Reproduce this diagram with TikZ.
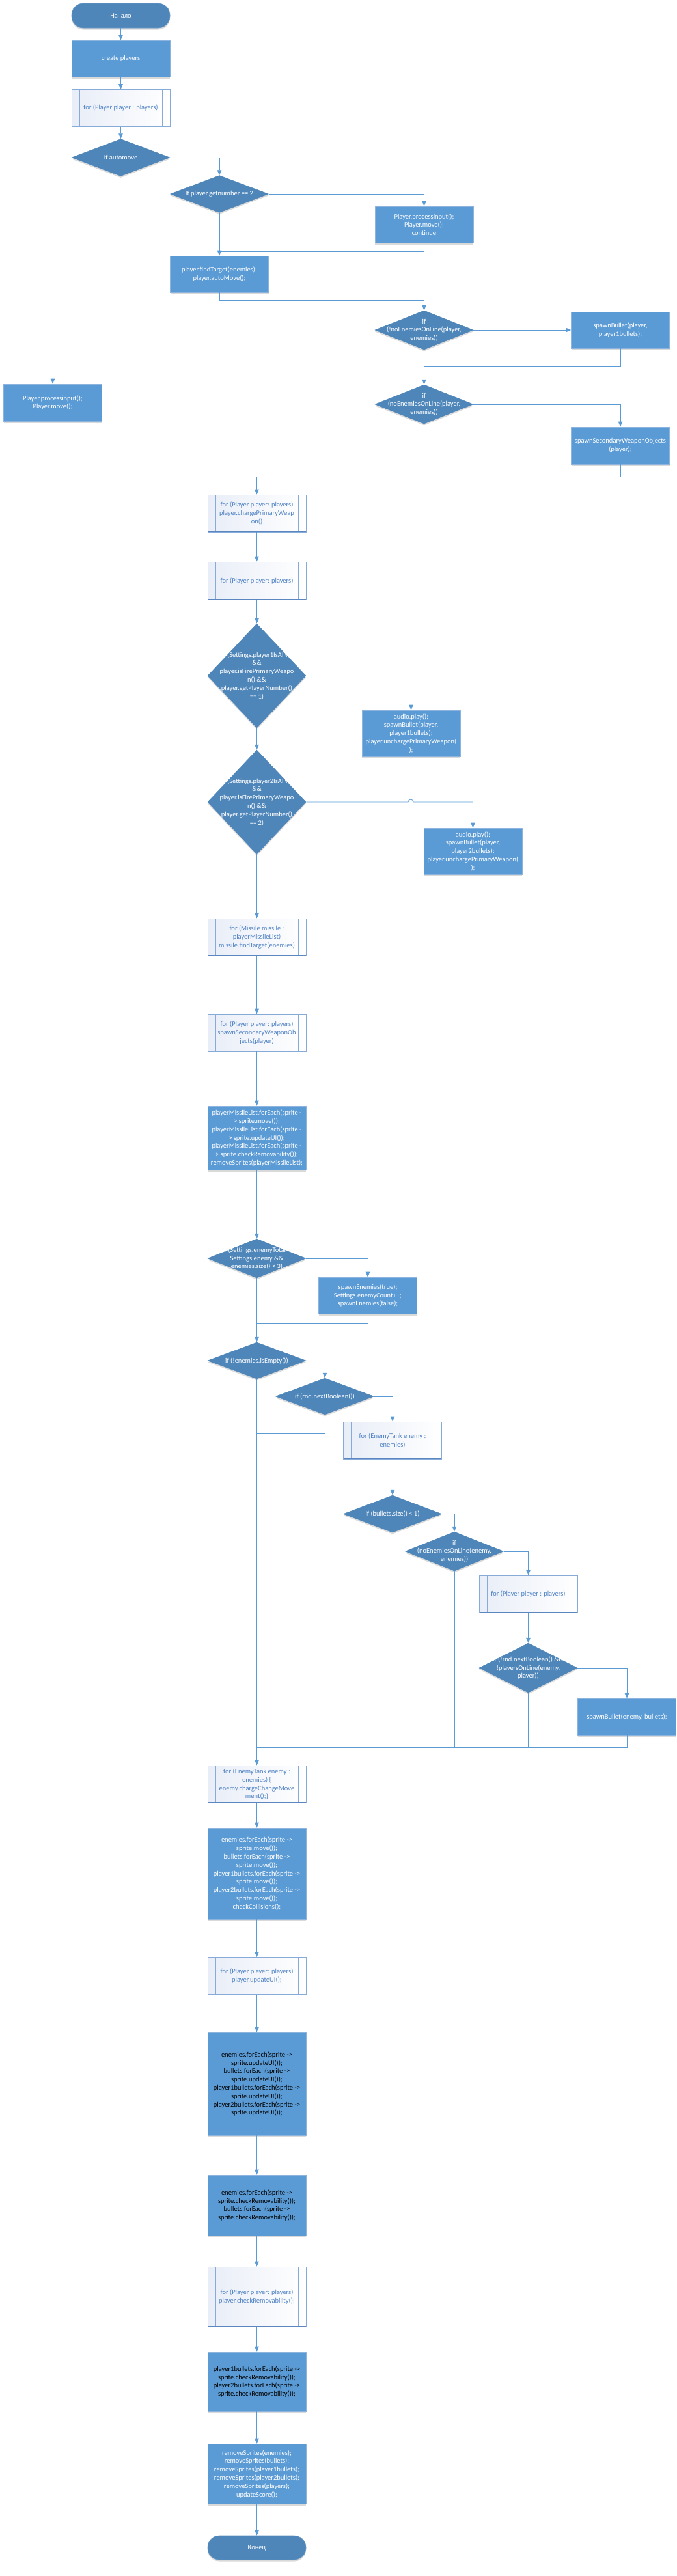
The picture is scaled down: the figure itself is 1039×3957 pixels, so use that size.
\documentclass[tikz,border=0pt]{standalone}
\usepackage{fontspec}
\setmainfont{Carlito}
\usetikzlibrary{arrows.meta,shapes.geometric,shadows}
\definecolor{lineblue}{HTML}{5B9BD5}
\definecolor{boxblue}{HTML}{5B9BD5}
\definecolor{boxedge}{HTML}{8DB4DE}
\definecolor{decblue}{HTML}{4E86BA}
\definecolor{subtext}{HTML}{4F82C4}
\definecolor{subedge}{HTML}{86ABD8}
\definecolor{subbottom}{HTML}{5B86C0}
\definecolor{subfill}{HTML}{E8EDF7}
\tikzset{
  every node/.style={font=\fontsize{10.5}{12.8}\selectfont},
  conn/.style={draw=lineblue, line width=0.9pt},
  arr/.style={conn, -{Triangle[length=8pt,width=6.5pt]}},
  shad/.style={drop shadow={shadow xshift=0pt, shadow yshift=-2.5pt, opacity=0.15, fill=black}},
  proc/.style={rectangle, fill=boxblue, draw=boxedge, line width=0.6pt,
    minimum width=151pt, minimum height=56pt, inner sep=0pt, text=white, align=center, shad},
  procb/.style={proc, text=black},
  term/.style={rectangle, rounded corners=18pt, fill=decblue, draw=decblue!85!white, line width=0.6pt,
    minimum width=151pt, minimum height=38pt, inner sep=0pt, text=white, align=center, shad},
  dec/.style={diamond, fill=decblue, draw=decblue, line width=0.5pt, inner sep=0pt,
    minimum width=151pt, minimum height=57pt, shad},
  dtext/.style={text=white, align=center, inner sep=0pt},
  sub/.style={rectangle, draw=subedge, line width=0.8pt, left color=subfill, right color=white,
    minimum width=151pt, minimum height=57pt, inner sep=0pt, text=subtext, align=center,
    path picture={
      \draw[subedge, line width=0.8pt]
        ([xshift=12pt]path picture bounding box.north west) -- ([xshift=12pt]path picture bounding box.south west)
        ([xshift=-12pt]path picture bounding box.north east) -- ([xshift=-12pt]path picture bounding box.south east);
      \draw[subbottom, line width=1.6pt]
        (path picture bounding box.south west) -- (path picture bounding box.south east);}},
}
\begin{document}
\begin{tikzpicture}[x=1pt,y=-1pt]
\useasboundingbox (0,0) rectangle (1039,3957);

% ---------------- top part ----------------
\node[term] (start) at (185.5,24) {Начало};
\node[proc] (create) at (185.5,90) {create players};
\node[sub] (for1) at (185.5,166) {for (Player player : players)};
\node[dec] (d1) at (185.5,242) {};
\node[dtext] (d1t) at (d1) {If automove};
\node[dec] (d2) at (337,298) {};
\node[dtext] (d2t) at (d2) {If player.getnumber == 2};
\node[proc] (pin1) at (651.5,345) {Player.processinput();\\Player.move();\\continue};
\node[proc] (ft) at (337,421) {player.findTarget(enemies);\\player.autoMove();};
\node[dec, minimum height=60pt] (d3) at (651.5,507) {};
\node[dtext] (d3t) at (d3) {if\\(!noEnemiesOnLine(player,\\enemies))};
\node[proc] (sb1) at (953,507) {spawnBullet(player,\\player1bullets);};
\node[dec, minimum height=60pt] (d4) at (651.5,621) {};
\node[dtext] (d4t) at (d4) {if\\(noEnemiesOnLine(player,\\enemies))};
\node[proc, minimum height=57pt] (sw) at (953,684.5) {spawnSecondaryWeaponObjects\\(player);};
\node[proc, minimum height=57pt] (pin2) at (81,618.5) {Player.processinput();\\Player.move();};

% ---------------- middle column ----------------
\node[sub] (for2) at (394.5,788.5) {for (Player player: players)\\player.chargePrimaryWeap\\on()};
\node[sub, minimum height=58pt] (for3) at (394.5,892) {for (Player player: players)};
\node[dec, minimum height=160pt] (d5) at (394.5,1038) {};
\node[dtext] (d5t) at (d5) {if (Settings.player1IsAlive\\\&\&\\player.isFirePrimaryWeapo\\n() \&\&\\player.getPlayerNumber()\\== 1)};
\node[proc, minimum height=71pt] (a1) at (631.5,1126.5) {audio.play();\\spawnBullet(player,\\player1bullets);\\player.unchargePrimaryWeapon(\\);};
\node[dec, minimum height=160pt] (d6) at (394.5,1232) {};
\node[dtext] (d6t) at (d6) {if (Settings.player2IsAlive\\\&\&\\player.isFirePrimaryWeapo\\n() \&\&\\player.getPlayerNumber()\\== 2)};
\node[proc, minimum height=71pt] (a2) at (726.5,1307.5) {audio.play();\\spawnBullet(player,\\player2bullets);\\player.unchargePrimaryWeapon(\\);};
\node[sub] (for4) at (394.5,1439.5) {for (Missile missile :\\playerMissileList)\\missile.findTarget(enemies)};
\node[sub] (for5) at (394.5,1586.5) {for (Player player: players)\\spawnSecondaryWeaponOb\\jects(player)};
\node[proc, minimum height=98pt] (pm) at (394.5,1748) {playerMissileList.forEach(sprite -\\> sprite.move());\\playerMissileList.forEach(sprite -\\> sprite.updateUI());\\playerMissileList.forEach(sprite -\\> sprite.checkRemovability());\\removeSprites(playerMissileList);};
\node[dec, minimum height=60pt] (d7) at (394.5,1933) {};
\node[dtext] (d7t) at (d7) {if (Settings.enemyTotal >\\Settings.enemy \&\&\\enemies.size() < 3)};
\node[proc] (se) at (565,1990) {spawnEnemies(true);\\Settings.enemyCount++;\\spawnEnemies(false);};
\node[dec, minimum height=56pt] (d8) at (394.5,2090) {};
\node[dtext] (d8t) at (d8) {if (!enemies.isEmpty())};
\node[dec, minimum height=56pt] (d9) at (499,2145) {};
\node[dtext] (d9t) at (d9) {if (rnd.nextBoolean())};
\node[sub] (for6) at (603,2212.5) {for (EnemyTank enemy :\\enemies)};
\node[dec] (d10) at (603,2325.5) {};
\node[dtext] (d10t) at (d10) {if (bullets.size() < 1)};
\node[dec, minimum height=60pt] (d11) at (698,2383) {};
\node[dtext] (d11t) at (d11) {if\\(noEnemiesOnLine(enemy,\\enemies))};
\node[sub] (for7) at (811.5,2448.5) {for (Player player : players)};
\node[dec, minimum height=76pt] (d12) at (811.5,2562) {};
\node[dtext] (d12t) at (d12) {if (!rnd.nextBoolean() \&\&\\!playersOnLine(enemy,\\player))};
\node[proc] (sbe) at (963,2637) {spawnBullet(enemy, bullets);};
\node[sub] (for8) at (394.5,2740.5) {for (EnemyTank enemy :\\enemies) \{\\enemy.chargeChangeMove\\ment();\}};
\node[proc, minimum height=140pt] (mv) at (394.5,2878) {enemies.forEach(sprite ->\\sprite.move());\\bullets.forEach(sprite ->\\sprite.move());\\player1bullets.forEach(sprite ->\\sprite.move());\\player2bullets.forEach(sprite ->\\sprite.move());\\checkCollisions();};
\node[sub] (for9) at (394.5,3035) {for (Player player: players)\\player.updateUI();};
\node[procb, minimum height=158pt] (ui) at (394.5,3201) {enemies.forEach(sprite ->\\sprite.updateUI());\\bullets.forEach(sprite ->\\sprite.updateUI());\\player1bullets.forEach(sprite ->\\sprite.updateUI());\\player2bullets.forEach(sprite ->\\sprite.updateUI());};
\node[procb, minimum height=93pt] (cr) at (394.5,3387.5) {enemies.forEach(sprite ->\\sprite.checkRemovability());\\bullets.forEach(sprite ->\\sprite.checkRemovability());};
\node[sub, minimum height=92pt] (for10) at (394.5,3528) {for (Player player: players)\\player.checkRemovability();};
\node[procb, minimum height=91pt] (cr2) at (394.5,3658.5) {player1bullets.forEach(sprite ->\\sprite.checkRemovability());\\player2bullets.forEach(sprite ->\\sprite.checkRemovability());};
\node[proc, minimum height=92pt] (rm) at (394.5,3800) {removeSprites(enemies);\\removeSprites(bullets);\\removeSprites(player1bullets);\\removeSprites(player2bullets);\\removeSprites(players);\\updateScore();};
\node[term, minimum height=37pt] (end) at (394.5,3913.5) {Конец};

% ---------------- junction coordinates ----------------
\coordinate (j1) at (337,386);
\coordinate (j2) at (651.5,562);
\coordinate (j3) at (394.5,732);
\coordinate (j4) at (394.5,1382);
\coordinate (j5) at (394.5,2033);
\coordinate (j6) at (394.5,2202);
\coordinate (j7) at (394.5,2684);
\coordinate (h1) at (627,1232);
\coordinate (h2) at (635,1232);

% ---------------- connectors ----------------
\draw[arr] (start) -- (create);
\draw[arr] (create) -- (for1);
\draw[arr] (for1) -- (d1);
\draw[arr] (d1.east) -| (d2.north);
\draw[arr] (d1.west) -| (pin2.north);
\draw[arr] (d2.east) -| (pin1.north);
\draw[arr] (d2.south) -- (ft.north);
\draw[conn] (pin1.south) |- (j1);
\draw[arr] (ft.south) |- (651.5,461) -- (d3.north);
\draw[arr] (d3.east) -- (sb1.west);
\draw[arr] (d3.south) -- (d4.north);
\draw[conn] (sb1.south) |- (j2);
\draw[arr] (d4.east) -| (sw.north);
\draw[conn] (pin2.south) |- (j3);
\draw[conn] (d4.south) |- (j3);
\draw[conn] (sw.south) |- (j3);
\draw[arr] (j3) -- (for2.north);
\draw[arr] (for2) -- (for3);
\draw[arr] (for3) -- (d5);
\draw[arr] (d5.east) -| (a1.north);
\draw[arr] (d5.south) -- (d6.north);
\draw[arr] (d6.east) -- (h1) arc[start angle=180, end angle=0, radius=4pt] -- (h2) -| (a2.north);
\draw[conn] (a1.south) |- (j4);
\draw[conn] (a2.south) |- (j4);
\draw[arr] (d6.south) -- (for4.north);
\draw[arr] (for4) -- (for5);
\draw[arr] (for5) -- (pm);
\draw[arr] (pm) -- (d7);
\draw[arr] (d7.east) -| (se.north);
\draw[conn] (se.south) |- (j5);
\draw[arr] (d7.south) -- (d8.north);
\draw[arr] (d8.east) -| (d9.north);
\draw[arr] (d9.east) -| (for6.north);
\draw[conn] (d9.south) |- (j6);
\draw[arr] (for6) -- (d10);
\draw[arr] (d10.east) -| (d11.north);
\draw[arr] (d11.east) -| (for7.north);
\draw[arr] (for7) -- (d12);
\draw[arr] (d12.east) -| (sbe.north);
\draw[conn] (sbe.south) |- (j7);
\draw[conn] (d12.south) |- (j7);
\draw[conn] (d11.south) |- (j7);
\draw[conn] (d10.south) |- (j7);
\draw[arr] (d8.south) -- (for8.north);
\draw[arr] (for8) -- (mv);
\draw[arr] (mv) -- (for9);
\draw[arr] (for9) -- (ui);
\draw[arr] (ui) -- (cr);
\draw[arr] (cr) -- (for10);
\draw[arr] (for10) -- (cr2);
\draw[arr] (cr2) -- (rm);
\draw[arr] (rm) -- (end);
\end{tikzpicture}
\end{document}
